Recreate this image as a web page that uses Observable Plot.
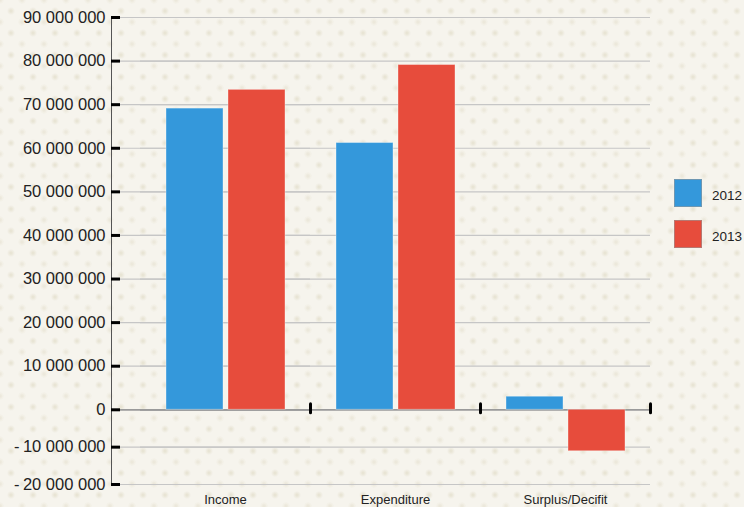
<!DOCTYPE html>
<html>
<head>
<meta charset="utf-8">
<script src="https://cdn.jsdelivr.net/npm/d3@7"></script>
<script src="https://cdn.jsdelivr.net/npm/@observablehq/plot@0.6"></script>
<style>
  html, body { margin: 0; padding: 0; }
  body {
    width: 744px; height: 507px; overflow: hidden; position: relative;
    background-color: #f6f4ed;
    background-image:
      radial-gradient(circle, rgba(190,180,140,0.30) 0px, rgba(190,180,140,0) 4px),
      radial-gradient(circle, rgba(190,180,140,0.22) 0px, rgba(190,180,140,0) 4px);
    background-size: 22px 22px, 22px 22px;
    background-position: 0 0, 11px 11px;
    font-family: "Liberation Sans", Arial, Helvetica, sans-serif;
  }
  #chart { position: absolute; left: 0; top: 0; }
  #legend { position: absolute; left: 674px; top: 179px; }
  .item { display: flex; align-items: center; height: 28px; margin-bottom: 13px; }
  .sw { width: 28px; height: 28px; box-sizing: border-box; border: 1px solid rgba(150,150,150,0.6); }
  .lab { margin-left: 10px; font-size: 13.5px; color: #222; padding-top: 4px; }
</style>
</head>
<body>
<div id="chart"></div>
<div id="legend"></div>
<script>
const categories = ["Income", "Expenditure", "Surplus/Decifit"];
const years = ["2012", "2013"];
const values2012 = [69100000, 61200000, 3000000];
const values2013 = [73400000, 79100000, -11100000];
const yTicks = [-20000000, -10000000, 0, 10000000, 20000000, 30000000, 40000000, 50000000, 60000000, 70000000, 80000000, 90000000];
const colors = ["#3498db", "#e74c3c"];

const rows = [];
categories.forEach((c, i) => {
  rows.push({category: c, year: years[0], value: values2012[i]});
  rows.push({category: c, year: years[1], value: values2013[i]});
});

const fmt = d => (d < 0 ? "-\u2009" : "") + d3.format(",")(Math.abs(d)).replace(/,/g, " ");

const tickShape = {
  draw(context, l) { context.moveTo(0, 0); context.lineTo(0, -l); }
};

const axisShift = -29;

const chart = Plot.plot({
  width: 744,
  height: 507,
  marginLeft: 111,
  marginRight: 94,
  marginTop: 17,
  marginBottom: 23,
  style: {background: "transparent", fontFamily: "'Liberation Sans', Arial, Helvetica, sans-serif", overflow: "visible"},
  fx: {domain: categories, padding: 0, insetLeft: 29, label: null},
  x: {domain: years, paddingInner: 0.085, paddingOuter: 0.41, axis: null},
  y: {type: "linear", domain: [-20000000, 0, 90000000], range: [484, 409.3, 17], label: null},
  color: {domain: years, range: colors},
  marks: [
    Plot.ruleY(yTicks.filter(d => d !== 0), {y: d => d, stroke: "#c6c6c6", strokeWidth: 1.2}),
    Plot.ruleY(yTicks.filter(d => d !== 0), {y: d => d, stroke: "#c6c6c6", strokeWidth: 1.2, facetAnchor: "left", insetLeft: axisShift}),
    Plot.ruleY([0], {stroke: "#9a9a9a", strokeWidth: 1.8}),
    Plot.ruleY([0], {stroke: "#9a9a9a", strokeWidth: 1.8, facetAnchor: "left", insetLeft: axisShift}),
    Plot.barY(rows, {fx: "category", x: "year", y: "value", fill: "year", stroke: "#ffffff", strokeOpacity: 0.35, strokeWidth: 1}),
    Plot.frame({anchor: "left", stroke: "#555", strokeWidth: 1, facetAnchor: "left", dx: axisShift}),
    Plot.axisY(yTicks, {anchor: "left", tickSize: 0, tickPadding: 6, tickFormat: fmt, fontSize: 16.5, fill: "#222", label: null, dx: axisShift}),
    Plot.axisY(yTicks, {anchor: "left", tickSize: -9, tickFormat: () => "", stroke: "#000", strokeWidth: 3, label: null, dx: axisShift}),
    Plot.vector(categories, {fx: d => d, y: () => 0, frameAnchor: "right", length: 9, rotate: 0, anchor: "middle", dy: -1.5, shape: tickShape, stroke: "#000", strokeWidth: 3}),
    Plot.axisFx({anchor: "bottom", tickSize: 0, tickPadding: 10, fontSize: 13, fill: "#222", label: null})
  ]
});
document.getElementById("chart").appendChild(chart);

const legend = document.getElementById("legend");
years.forEach((y, i) => {
  const item = document.createElement("div");
  item.className = "item";
  const sw = document.createElement("div");
  sw.className = "sw";
  sw.style.background = colors[i];
  const lab = document.createElement("div");
  lab.className = "lab";
  lab.textContent = y;
  item.appendChild(sw);
  item.appendChild(lab);
  legend.appendChild(item);
});
</script>
</body>
</html>
